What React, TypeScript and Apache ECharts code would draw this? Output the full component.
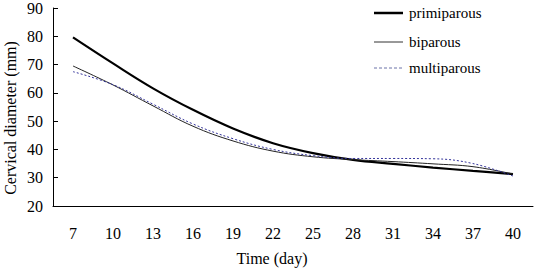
import React, { useEffect, useRef } from "react";
import * as echarts from "echarts";

const dayLabels = ["7", "10", "13", "16", "19", "22", "25", "28", "31", "34", "37", "40"];
const days = [7, 10, 13, 16, 19, 22, 25, 28, 31, 34, 37, 40];
const primiparous = [79.6, 70.4, 61.6, 54.0, 47.4, 42.2, 38.7, 36.3, 34.9, 33.6, 32.4, 31.3];
const biparous = [69.5, 62.8, 55.4, 48.2, 43.0, 39.4, 37.4, 36.4, 35.7, 34.9, 33.9, 31.3];
const multiparous = [67.5, 62.9, 56.0, 49.0, 43.8, 40.0, 37.8, 36.8, 36.8, 36.7, 35.0, 30.6];
const seriesNames = ["primiparous", "biparous", "multiparous"];
const yTicks = { min: 20, max: 90, interval: 10 };

const FONT = "Liberation Serif";

export default function App() {
  const ref = useRef<HTMLDivElement>(null);
  useEffect(() => {
    if (!ref.current) return;
    const chart = echarts.init(ref.current, null, { renderer: "svg" });
    const pair = (vals: number[]) => days.map((d, i) => [d, vals[i]]);
    const legendStyles = [
      { stroke: "#000", lineWidth: 2.5 },
      { stroke: "#333", lineWidth: 1 },
      { stroke: "#6a72a8", lineWidth: 1, lineDash: [3, 2] },
    ];
    const legendY = [13, 42, 68];
    const legendGraphics: any[] = [];
    seriesNames.forEach((name, i) => {
      legendGraphics.push({
        type: "line",
        shape: { x1: 374, y1: legendY[i], x2: 403, y2: legendY[i] },
        style: { ...legendStyles[i] },
      });
      legendGraphics.push({
        type: "text",
        x: 409,
        y: legendY[i],
        style: {
          text: name,
          font: `15px ${FONT}`,
          fill: "#000",
          align: "left",
          verticalAlign: "middle",
        },
      });
    });
    chart.setOption({
      animation: false,
      backgroundColor: "#ffffff",
      textStyle: { fontFamily: FONT },
      grid: { left: 53, right: 3, top: 7, bottom: 62 },
      xAxis: [
        {
          type: "category",
          data: dayLabels,
          boundaryGap: true,
          axisLine: { lineStyle: { color: "#000", width: 1 } },
          axisTick: { inside: true, length: 5, interval: 0, lineStyle: { color: "#000" } },
          axisLabel: {
            interval: 0,
            fontFamily: FONT,
            fontSize: 16,
            color: "#000",
            margin: 19,
          },
          splitLine: { show: false },
        },
        {
          type: "value",
          min: 5.5,
          max: 41.5,
          show: false,
        },
      ],
      yAxis: {
        type: "value",
        min: yTicks.min,
        max: yTicks.max,
        interval: yTicks.interval,
        axisLine: { show: true, lineStyle: { color: "#000", width: 1 } },
        axisTick: { show: true, inside: true, length: 5, lineStyle: { color: "#000" } },
        axisLabel: {
          fontFamily: FONT,
          fontSize: 16,
          color: "#000",
          margin: 10,
        },
        splitLine: { show: false },
      },
      graphic: [
        {
          type: "text",
          x: 272,
          y: 258,
          style: {
            text: "Time (day)",
            font: `16px ${FONT}`,
            fill: "#000",
            align: "center",
            verticalAlign: "middle",
          },
        },
        {
          type: "text",
          x: 10,
          y: 118,
          rotation: Math.PI / 2,
          style: {
            text: "Cervical diameter (mm)",
            font: `16px ${FONT}`,
            fill: "#000",
            align: "center",
            verticalAlign: "middle",
          },
        },
        ...legendGraphics,
      ],
      series: [
        {
          name: seriesNames[0],
          type: "line",
          xAxisIndex: 1,
          data: pair(primiparous),
          smooth: 0.4,
          symbol: "none",
          lineStyle: { color: "#000", width: 2.2 },
        },
        {
          name: seriesNames[1],
          type: "line",
          xAxisIndex: 1,
          data: pair(biparous),
          smooth: 0.4,
          symbol: "none",
          lineStyle: { color: "#222", width: 1 },
        },
        {
          name: seriesNames[2],
          type: "line",
          xAxisIndex: 1,
          data: pair(multiparous),
          smooth: 0.4,
          symbol: "none",
          lineStyle: { color: "#33339a", width: 1, type: [2, 2] },
        },
      ],
    });
    return () => chart.dispose();
  }, []);
  return <div ref={ref} style={{ width: 536, height: 268, position: "fixed", left: 0, top: 0 }} />;
}
